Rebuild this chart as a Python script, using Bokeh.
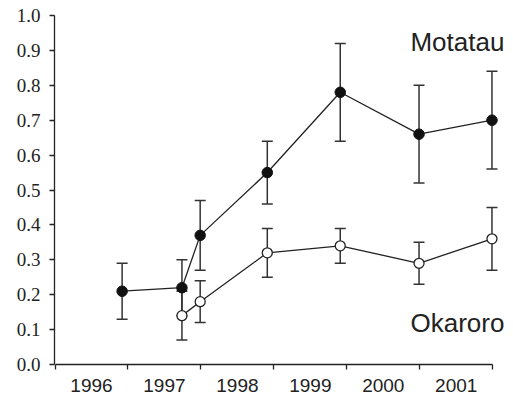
from bokeh.plotting import figure
from bokeh.models import Range1d, FixedTicker, Whisker, ColumnDataSource, Label, TeeHead
from bokeh.embed import file_html
from bokeh.resources import INLINE

# Motatau (filled)
mot_x = [1996.92, 1997.74, 1997.99, 1998.91, 1999.91, 2000.99, 2001.99]
mot_y = [0.21, 0.22, 0.37, 0.55, 0.78, 0.66, 0.70]
mot_lo = [0.13, 0.14, 0.27, 0.46, 0.64, 0.52, 0.56]
mot_hi = [0.29, 0.30, 0.47, 0.64, 0.92, 0.80, 0.84]

# Okaroro (open)
oka_x = [1997.74, 1997.99, 1998.91, 1999.91, 2000.99, 2001.99]
oka_y = [0.14, 0.18, 0.32, 0.34, 0.29, 0.36]
oka_lo = [0.07, 0.12, 0.25, 0.29, 0.23, 0.27]
oka_hi = [0.21, 0.24, 0.39, 0.39, 0.35, 0.45]

year_bounds = [1996, 1997, 1998, 1999, 2000, 2001, 2002]
year_label_pos = [1996.5, 1997.5, 1998.5, 1999.5, 2000.5, 2001.5]
year_labels = ["1996", "1997", "1998", "1999", "2000", "2001"]
y_ticks = [0.0, 0.1, 0.2, 0.3, 0.4, 0.5, 0.6, 0.7, 0.8, 0.9, 1.0]
y_labels = ["0.0", "0.1", "0.2", "0.3", "0.4", "0.5", "0.6", "0.7", "0.8", "0.9", "1.0"]

INK = "#222222"
SERIF = "Liberation Serif"
SANS = "Liberation Sans"

p = figure(width=513, height=402, output_backend="svg", toolbar_location=None,
           x_range=Range1d(1995.993, 2002.285), y_range=Range1d(0, 1),
           min_border_left=54, min_border_right=0, min_border_top=15, min_border_bottom=38)
p.outline_line_color = None
p.grid.visible = False
p.background_fill_color = "white"
p.border_fill_color = "white"

# x axis
xa = p.xaxis[0]
xa.ticker = FixedTicker(ticks=year_label_pos, minor_ticks=year_bounds)
xa.major_label_overrides = {pos: lab for pos, lab in zip(year_label_pos, year_labels)}
xa.major_tick_out = 0
xa.major_tick_in = 0
xa.minor_tick_out = 5
xa.minor_tick_in = 0
xa.minor_tick_line_color = INK
xa.minor_tick_line_width = 1.3
xa.axis_line_color = INK
xa.axis_line_width = 1.3
xa.bounds = (1996, 2002)
xa.major_label_text_font = SANS
xa.major_label_text_font_size = "19px"
xa.major_label_text_color = INK
xa.major_label_standoff = 9

# y axis
ya = p.yaxis[0]
ya.ticker = FixedTicker(ticks=y_ticks)
ya.minor_tick_line_color = None
ya.major_tick_out = 5
ya.major_tick_in = 0
ya.major_tick_line_color = INK
ya.major_tick_line_width = 1.3
ya.axis_line_color = INK
ya.axis_line_width = 1.3
ya.bounds = (0, 1)
ya.major_label_text_font = SERIF
ya.major_label_text_font_size = "19px"
ya.major_label_text_color = INK
ya.major_label_standoff = 9
ya.major_label_overrides = {t: lab for t, lab in zip(y_ticks, y_labels)}

mot_src = ColumnDataSource(dict(x=mot_x, y=mot_y, lo=mot_lo, hi=mot_hi))
oka_src = ColumnDataSource(dict(x=oka_x, y=oka_y, lo=oka_lo, hi=oka_hi))

for src in (mot_src, oka_src):
    w = Whisker(source=src, base="x", lower="lo", upper="hi", dimension="height",
                line_color="#333333", line_width=1.5,
                upper_head=TeeHead(size=11, line_color="#333333", line_width=1.5),
                lower_head=TeeHead(size=11, line_color="#333333", line_width=1.5))
    p.add_layout(w)

p.line("x", "y", source=mot_src, line_color=INK, line_width=1.3)
p.line("x", "y", source=oka_src, line_color=INK, line_width=1.3)
p.scatter("x", "y", source=mot_src, size=10.5, fill_color="#111111", line_color="#111111", line_width=1)
p.scatter("x", "y", source=oka_src, size=10, fill_color="white", line_color=INK, line_width=1.3)

p.add_layout(Label(x=2002.16, y=0.925, text="Motatau", text_align="right", text_baseline="middle",
                   text_font=SANS, text_font_size="26px", text_color=INK))
p.add_layout(Label(x=2002.16, y=0.118, text="Okaroro", text_align="right", text_baseline="middle",
                   text_font=SANS, text_font_size="26px", text_color=INK))

open("out.html", "w").write(file_html(p, INLINE))
